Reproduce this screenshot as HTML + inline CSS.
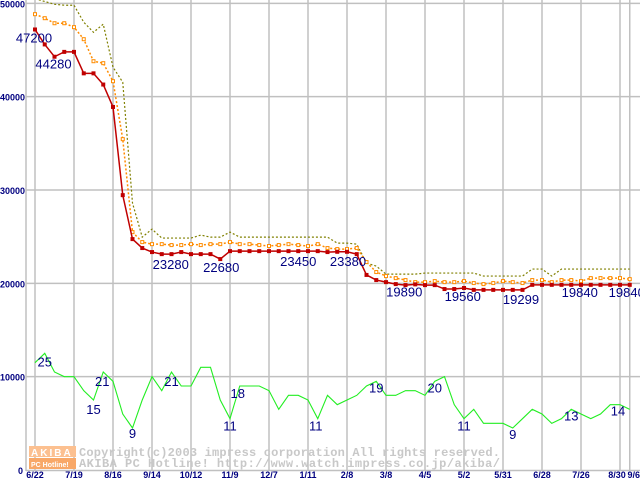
<!DOCTYPE html>
<html><head><meta charset="utf-8"><style>
body{margin:0;background:#fff}
svg{display:block;font-family:"Liberation Sans",sans-serif}
</style></head><body>
<svg id="c" width="640" height="480" xmlns="http://www.w3.org/2000/svg"></svg>
<script>
const yTicks=[0,10000,20000,30000,40000,50000];
const xTickLabels=["6/22","7/19","8/16","9/14","10/12","11/9","12/7","1/11","2/8","3/8","4/5","5/2","5/31","6/28","7/26","8/30","9/6"];
const xTickIndex=[0,4,8,12,16,20,24,28,32,36,40,44,48,52,56,60,61];
const bestPrice=[47200,45600,44280,44800,44800,42500,42500,41300,38900,29450,24740,23780,23350,23130,23130,23350,23130,23130,23130,22600,23450,23450,23450,23450,23450,23450,23450,23450,23450,23450,23350,23380,23380,23130,20900,20350,20130,19920,19810,19890,19810,19810,19390,19390,19500,19299,19299,19299,19299,19299,19299,19840,19840,19840,19840,19840,19840,19840,19840,19840,19840,19840];
const secondPrice=[48840,48410,47870,47870,47450,46160,43800,43590,41660,35450,25490,24420,24200,24200,24100,24100,24200,24100,24200,24200,24420,24200,24200,24100,24000,24100,24200,24100,23990,24200,23780,23670,23670,23780,22280,21210,20780,20560,20350,20130,20130,20240,20130,20130,20240,20030,19920,20030,20240,20130,20030,20350,20350,20130,20350,20350,20240,20560,20560,20560,20560,20450];
const avgPrice=[50500,50200,49900,49800,49800,47980,46900,47770,43160,41550,28600,24950,25810,24850,24850,24850,24850,25170,24950,24950,25490,24950,24950,24950,24950,24950,24950,24950,24950,24950,24950,24310,24310,24200,22170,21850,20990,20990,20990,20990,21100,21100,21100,21100,21100,21100,20780,20780,20780,20780,20780,21530,21530,20780,21530,21530,21530,21530,21530,21530,21530,21530];
const shopCount=[23,25,21,20,20,17,15,21,19,12,9,15,20,17,21,18,18,22,22,15,11,18,18,18,17,13,16,16,15,11,16,14,15,16,18,19,16,16,17,17,16,19,20,14,11,13,10,10,10,9,11,13,12,10,11,13,12,11,12,14,14,13];
const priceLabels=[[0,47200,-1,13],[2,44280,-1,12],[13,23280,9,15],[19,22680,1,13],[27,23450,0,15],[32,23380,1,14],[39,19890,-11,12],[45,19560,-11,11],[48,19299,18,14],[57,19840,-11,12],[61,19840,-3,12]];
const countLabels=[[1,25,0,13],[7,21,-1,14],[6,15,0,14],[10,9,0,10],[14,21,0,14],[21,18,-2,12],[20,11,0,12],[29,11,-2,12],[35,19,0,11],[41,20,0,11],[44,11,0,12],[49,9,0,11],[55,13,0,11],[60,14,-2,11]];
const NS="http://www.w3.org/2000/svg",svg=document.getElementById('c');
const X=i=>35+i*9.75, Y=v=>470-v*0.009333, YC=n=>Y(n*500);
function mk(t,a,p){const e=document.createElementNS(NS,t);for(const k in a)e.setAttribute(k,a[k]);(p||svg).appendChild(e);return e;}
yTicks.forEach(v=>{if(v>0){const l=mk('line',{x1:26,x2:640,y1:Y(v),y2:Y(v),stroke:'#c0c0c0','stroke-width':1.5});}
const t=mk('text',{x:v===0?18:0,y:Y(v)+4,fill:'#000080','font-size':9,'font-weight':'bold'});t.textContent=v;});
xTickIndex.forEach((ix,k)=>{const l=mk('line',{x1:X(ix),x2:X(ix),y1:0,y2:470,stroke:'#c0c0c0','stroke-width':1.5});
const t=mk('text',{x:X(ix)+(k===16?4:k===15?-3:0),y:478,fill:'#000080','font-size':9,'font-weight':'bold','text-anchor':'middle'});t.textContent=xTickLabels[k];});
const ax=mk('line',{x1:26,x2:26,y1:0,y2:471,stroke:'#c0c0c0','stroke-width':1.5});
const ax2=mk('line',{x1:26,x2:640,y1:470.5,y2:470.5,stroke:'#c0c0c0','stroke-width':1.5});
const wm=mk('g',{});
mk('rect',{x:29,y:446,width:47,height:11,fill:'#fcc090'},wm);mk('rect',{x:29,y:458,width:47,height:11,fill:'#f8a868'},wm);
let t1=mk('text',{x:31,y:456,fill:'#fff','font-size':10,'font-weight':'bold','letter-spacing':2},wm);t1.textContent='AKIBA';
let t2=mk('text',{x:31,y:467,fill:'#fff','font-size':7,'font-weight':'bold'},wm);t2.textContent='PC Hotline!';
let t3=mk('text',{x:79,y:456,fill:'#c8c8c8','font-size':12,'font-weight':'bold','font-family':'Liberation Mono, monospace','textLength':421},wm);t3.textContent='Copyright(c)2003 impress corporation All rights reserved.';
let t4=mk('text',{x:79,y:467,fill:'#c8c8c8','font-size':12,'font-weight':'bold','font-family':'Liberation Mono, monospace','textLength':421},wm);t4.textContent='AKIBA PC Hotline!  http://www.watch.impress.co.jp/akiba/';
function line(arr,f,col,dash,name,w){const p=mk('polyline',{points:arr.map((v,i)=>X(i)+','+f(v)).join(' '),fill:'none',stroke:col,'stroke-width':w||1,'stroke-dasharray':dash||'none'});}
line(shopCount,YC,'#22ee22',null,'shop-count-line',1.1);
line(avgPrice,Y,'#808000','2,2','average-price-line',1.2);
line(secondPrice,Y,'#ff8c00','2,2','second-price-line',1.5);
secondPrice.forEach((v,i)=>{const r=mk('rect',{x:X(i)-1.5,y:Y(v)-1.5,width:3,height:3,fill:'#fff',stroke:'#ff8c00','stroke-width':1});});
line(bestPrice,Y,'#c00000',null,'best-price-line',1.5);
bestPrice.forEach((v,i)=>{const r=mk('rect',{x:X(i)-2,y:Y(v)-2,width:4,height:4,fill:'#c00000'});});
priceLabels.forEach(([i,v,dx,dy])=>{const t=mk('text',{x:X(i)+dx,y:Y(bestPrice[i])+dy,fill:'#000080','font-size':13,'text-anchor':'middle'});t.textContent=v;});
countLabels.forEach(([i,v,dx,dy])=>{const t=mk('text',{x:X(i)+dx,y:YC(shopCount[i])+dy,fill:'#000080','font-size':13,'text-anchor':'middle'});t.textContent=v;});
</script>
</body></html>
